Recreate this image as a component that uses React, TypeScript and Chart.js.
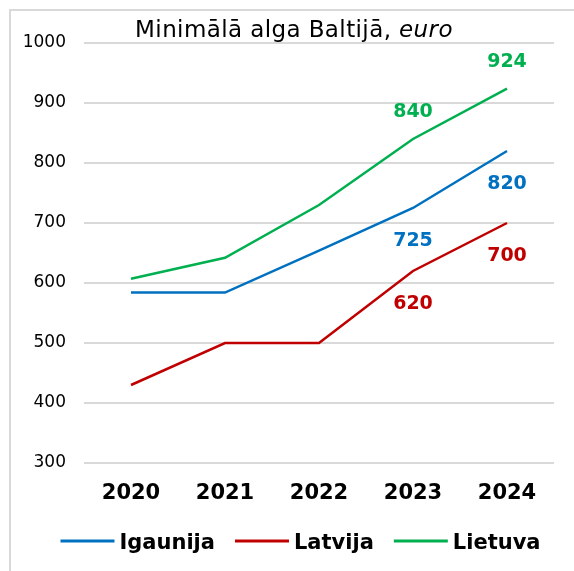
import React, { useEffect, useRef } from "react";
import { Chart, registerables } from "chart.js";

Chart.register(...registerables);

const years = ["2020", "2021", "2022", "2023", "2024"];
const igaunija = [584, 584, 654, 725, 820];
const latvija = [430, 500, 500, 620, 700];
const lietuva = [607, 642, 730, 840, 924];
const seriesNames = ["Igaunija", "Latvija", "Lietuva"];
const seriesColors = ["#0070C0", "#C00000", "#00B050"];
const labeledIndices = [3, 4];
const labelAbove = [false, false, true];
const yMin = 300;
const yMax = 1000;
const yStep = 100;
const titleMain = "Minimālā alga Baltijā, ";
const titleItalic = "euro";

const FONT = "'DejaVu Sans', Verdana, sans-serif";

const framePlugin = {
  id: "frame",
  beforeDraw(chart: any) {
    const ctx = chart.ctx;
    ctx.save();
    ctx.fillStyle = "#ffffff";
    ctx.fillRect(0, 0, chart.width, chart.height);
    ctx.fillStyle = "#d9d9d9";
    ctx.fillRect(9, 9, 2, chart.height - 9);
    ctx.fillRect(9, 9, chart.width - 9, 2);
    ctx.restore();
  },
};

const titlePlugin = {
  id: "customTitle",
  afterDraw(chart: any) {
    const ctx = chart.ctx;
    ctx.save();
    ctx.fillStyle = "#000000";
    ctx.textBaseline = "alphabetic";
    ctx.textAlign = "left";
    (ctx as any).letterSpacing = "0.4px";
    const f1 = `normal 23px ${FONT}`;
    const f2 = `italic 23px ${FONT}`;
    ctx.font = f1;
    const w1 = ctx.measureText(titleMain).width;
    ctx.font = f2;
    const w2 = ctx.measureText(titleItalic).width;
    const cx = 294;
    const x0 = cx - (w1 + w2) / 2;
    ctx.font = f1;
    ctx.fillText(titleMain, x0, 37);
    ctx.font = f2;
    ctx.fillText(titleItalic, x0 + w1, 37);
    ctx.restore();
  },
};

const dataLabelPlugin = {
  id: "dataLabels",
  afterDatasetsDraw(chart: any) {
    const ctx = chart.ctx;
    ctx.save();
    ctx.font = `bold 19px ${FONT}`;
    ctx.textAlign = "center";
    ctx.textBaseline = "alphabetic";
    chart.data.datasets.forEach((ds: any, di: number) => {
      const meta = chart.getDatasetMeta(di);
      ctx.fillStyle = ds.borderColor;
      labeledIndices.forEach((i) => {
        const el = meta.data[i];
        if (!el) return;
        const y = labelAbove[di] ? el.y - 22 : el.y + 38;
        ctx.fillText(String(ds.data[i]), el.x, y);
      });
    });
    ctx.restore();
  },
};

const legendPlugin = {
  id: "customLegend",
  afterDraw(chart: any) {
    const ctx = chart.ctx;
    ctx.save();
    ctx.font = `bold 21px ${FONT}`;
    const lineLen = 54;
    const gapText = 5;
    const gapItem = 20;
    const widths = seriesNames.map((n) => ctx.measureText(n).width);
    const total =
      widths.reduce((a, w) => a + lineLen + gapText + w, 0) + gapItem * (seriesNames.length - 1);
    let x = 300.5 - total / 2;
    const yLine = 541;
    const yText = 549;
    seriesNames.forEach((name, i) => {
      ctx.strokeStyle = seriesColors[i];
      ctx.lineWidth = 3;
      ctx.beginPath();
      ctx.moveTo(x, yLine);
      ctx.lineTo(x + lineLen, yLine);
      ctx.stroke();
      x += lineLen + gapText;
      ctx.fillStyle = "#000000";
      ctx.textAlign = "left";
      ctx.textBaseline = "alphabetic";
      ctx.fillText(name, x, yText);
      x += widths[i] + gapItem;
    });
    ctx.restore();
  },
};

export default function App() {
  const canvasRef = useRef<HTMLCanvasElement | null>(null);

  useEffect(() => {
    if (!canvasRef.current) return;
    Chart.defaults.font.family = FONT;
    const seriesData = [igaunija, latvija, lietuva];
    const chart = new Chart(canvasRef.current, {
      type: "line",
      data: {
        labels: years,
        datasets: seriesNames.map((name, i) => ({
          label: name,
          data: seriesData[i],
          borderColor: seriesColors[i],
          backgroundColor: seriesColors[i],
          borderWidth: 2.5,
          pointRadius: 0,
          tension: 0,
          fill: false,
        })),
      },
      options: {
        animation: false,
        responsive: false,
        devicePixelRatio: 1,
        layout: { padding: { top: 43, right: 20, left: 0, bottom: 0 } },
        plugins: {
          legend: { display: false },
          title: { display: false },
          tooltip: { enabled: false },
        },
        scales: {
          x: {
            offset: true,
            grid: { display: false, drawTicks: false },
            border: { display: false },
            ticks: {
              color: "#000000",
              font: { size: 21, weight: "bold", family: FONT },
              padding: 18,
              maxRotation: 0,
            },
            afterFit(scale: any) {
              scale.height = 108;
            },
          },
          y: {
            min: yMin,
            max: yMax,
            grid: { color: "#d9d9d9", lineWidth: 2, drawTicks: false },
            border: { display: false },
            ticks: {
              stepSize: yStep,
              color: "#000000",
              font: { size: 17, family: FONT },
              padding: 18,
              callback: (v: any) => String(v),
            },
            afterFit(scale: any) {
              scale.width = 84;
            },
          },
        },
      },
      plugins: [framePlugin, titlePlugin, dataLabelPlugin, legendPlugin],
    } as any);
    return () => chart.destroy();
  }, []);

  return (
    <div style={{ position: "fixed", left: 0, top: 0, width: 574, height: 571, background: "#fff" }}>
      <canvas ref={canvasRef} width={574} height={571} style={{ width: 574, height: 571, display: "block" }} />
    </div>
  );
}
